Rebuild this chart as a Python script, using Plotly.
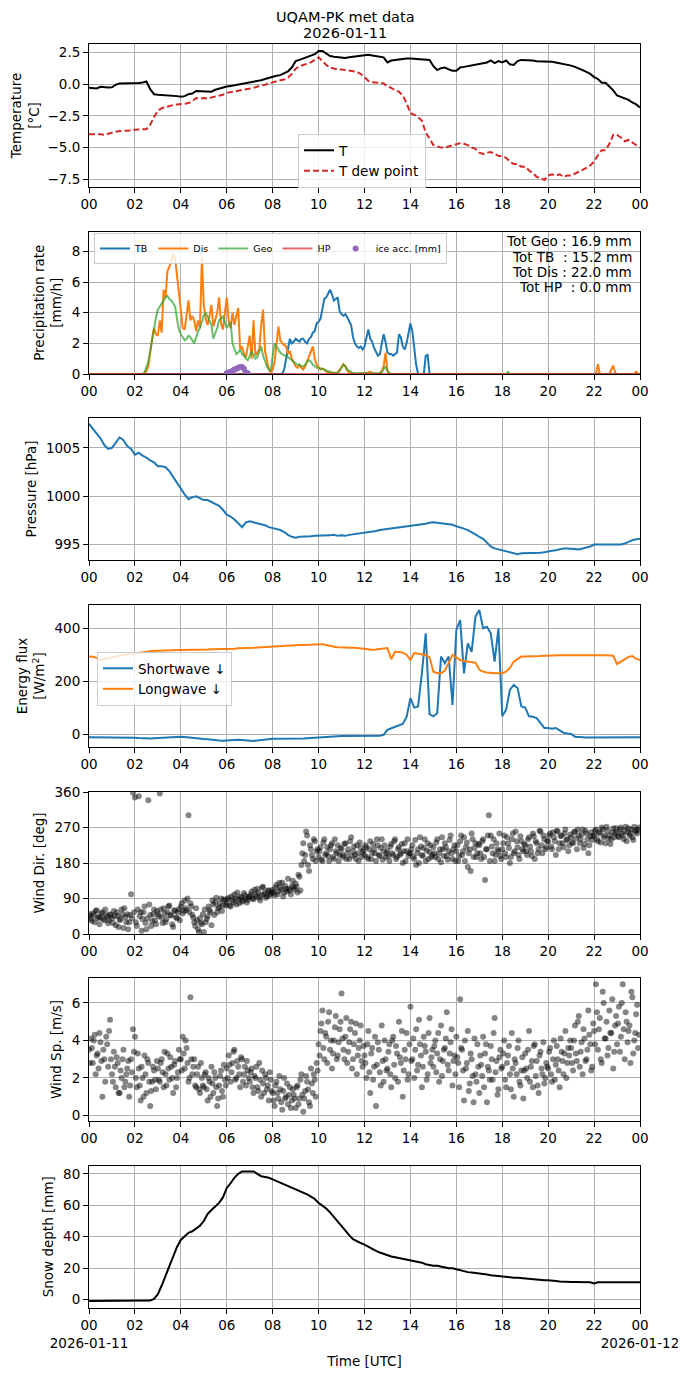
import pandas as pd
import plotly.graph_objects as go
from plotly.subplots import make_subplots

# Time grids (10-min for slow series, 5-min for precip, 2.5-min for wind)
t10 = pd.date_range('2026-01-11 00:00', '2026-01-12 00:00', freq='10min')
t5 = pd.date_range('2026-01-11 00:00', '2026-01-12 00:00', freq='5min')
t5_wind = t5[:-1]
t5_wind_b = t5_wind + pd.Timedelta('150s')
t_ice = pd.date_range('2026-01-11 06:00', '2026-01-11 06:55', freq='5min')

hour_ticks = pd.date_range('2026-01-11 00:00', '2026-01-12 00:00', freq='2h')
hour_labels = ['00', '02', '04', '06', '08', '10', '12', '14', '16', '18', '20', '22', '00']
day_labels = ['2026-01-11', '2026-01-12']

# Temperature [C], 10-min
temp = [
    -0.30, -0.35, -0.35, -0.22, -0.25, -0.28,
    -0.25, -0.05, 0.05, 0.05, 0.06, 0.05,
    0.08, 0.08, 0.12, 0.20, -0.40, -0.80,
    -0.85, -0.86, -0.88, -0.90, -0.92, -0.95,
    -1.00, -0.95, -0.80, -0.75, -0.55, -0.55,
    -0.55, -0.58, -0.60, -0.45, -0.35, -0.30,
    -0.20, -0.15, -0.10, -0.05, 0.05, 0.10,
    0.10, 0.15, 0.25, 0.30, 0.40, 0.50,
    0.60, 0.65, 0.70, 0.85, 1.00, 1.30,
    1.80, 1.90, 2.00, 2.10, 2.20, 2.35,
    2.60, 2.60, 2.40, 2.20, 2.15, 2.10,
    2.05, 2.05, 2.10, 2.15, 2.20, 2.25,
    2.30, 2.30, 2.25, 2.20, 2.15, 2.10,
    1.70, 1.85, 1.90, 1.95, 1.98, 2.00,
    2.00, 1.98, 1.95, 1.92, 1.95, 1.90,
    1.40, 1.10, 1.25, 1.30, 1.15, 1.05,
    1.05, 1.30, 1.35, 1.40, 1.45, 1.50,
    1.55, 1.60, 1.70, 1.85, 1.65, 1.80,
    1.70, 1.85, 1.55, 1.50, 1.80, 1.90,
    1.90, 1.85, 1.85, 1.80, 1.80, 1.80,
    1.80, 1.75, 1.70, 1.65, 1.60, 1.50,
    1.45, 1.35, 1.25, 1.10, 0.95, 0.80,
    0.55, 0.40, 0.10, 0.10, -0.20, -0.50,
    -0.90, -1.00, -1.10, -1.25, -1.45, -1.60,
    -1.85,
]
dewpoint = [
    -3.95, -3.95, -3.90, -3.95, -4.00, -3.90,
    -3.80, -3.75, -3.70, -3.70, -3.65, -3.65,
    -3.60, -3.55, -3.55, -3.55, -3.20, -2.60,
    -2.10, -1.90, -1.80, -1.70, -1.65, -1.60,
    -1.60, -1.55, -1.50, -1.35, -1.10, -1.15,
    -1.10, -1.15, -1.05, -1.00, -0.90, -0.85,
    -0.70, -0.65, -0.60, -0.55, -0.50, -0.40,
    -0.35, -0.30, -0.20, -0.15, -0.05, 0.05,
    0.15, 0.20, 0.30, 0.35, 0.50, 0.80,
    1.20, 1.40, 1.50, 1.60, 1.70, 1.90,
    2.10, 1.80, 1.50, 1.30, 1.20, 1.15,
    1.15, 1.10, 1.10, 1.05, 0.95, 0.80,
    0.50, 0.25, 0.15, 0.15, 0.10, 0.05,
    -0.20, -0.30, -0.50, -0.60, -0.90, -1.50,
    -2.30, -2.40, -2.60, -2.90, -3.80, -4.30,
    -4.80, -4.90, -5.00, -5.00, -4.90, -4.80,
    -4.70, -4.65, -4.70, -4.80, -5.00, -5.10,
    -5.40, -5.50, -5.40, -5.35, -5.50, -5.65,
    -5.70, -5.80, -6.10, -6.30, -6.30, -6.50,
    -6.50, -6.80, -7.00, -7.30, -7.40, -7.55,
    -7.20, -7.10, -7.20, -7.10, -7.30, -7.20,
    -7.20, -7.05, -6.90, -6.80, -6.60, -6.40,
    -6.10, -5.60, -5.20, -5.20, -4.70, -4.00,
    -4.00, -4.20, -4.50, -4.40, -4.60, -4.80,
    -5.00,
]

# Precipitation rate [mm/h], 5-min
zero_hour = [0.0] * 12
precip_tb = (
    zero_hour * 8 +
    [0, 0, 0, 0, 0, 0, 0.3, 1.0, 1.7, 2.3, 2.0, 2.1] +
    [2.3, 2.2, 2.1, 2.3, 2.3, 2.1, 2.0, 2.3, 2.4, 2.7, 2.8, 3.3] +
    [3.4, 3.6, 4.4, 4.9, 5.0, 5.3, 5.5, 5.2, 4.8, 4.9, 5.0, 4.1] +
    [3.9, 3.8, 3.9, 3.7, 3.4, 3.2, 2.4, 2.0, 1.8, 1.7, 1.8, 1.6] +
    [1.8, 2.4, 2.9, 2.3, 2.1, 1.7, 1.4, 1.2, 1.3, 2.0, 2.6, 2.1] +
    [1.4, 1.3, 1.3, 1.2, 1.3, 1.4, 2.6, 2.4, 1.8, 1.6, 2.0, 2.6] +
    [3.3, 2.8, 1.8, 0.6, 0, 0, 0, 0, 1.2, 1.25, 0, 0] +
    zero_hour * 9 + [0.0]
)
precip_dis = (
    zero_hour * 2 +
    [0, 0, 0, 0, 0, 0.05, 0.2, 0.5, 1.5, 2.3, 3.0, 2.6] +
    [2.5, 3.5, 2.7, 5.5, 5.0, 6.7, 7.0, 7.5, 7.8, 7.6, 6.4, 5.0] +
    [4.0, 3.0, 2.9, 3.8, 4.8, 3.5, 3.8, 3.5, 2.8, 3.5, 3.0, 7.6] +
    [4.5, 3.6, 3.2, 3.8, 4.5, 3.1, 3.5, 4.0, 5.0, 3.3, 2.9, 4.0] +
    [5.0, 3.5, 3.0, 4.0, 3.2, 3.8, 4.3, 1.6, 1.8, 1.3, 1.1, 1.8] +
    [2.5, 1.0, 3.5, 1.2, 1.4, 1.6, 3.2, 4.2, 1.5, 0.8, 0.3, 0.1] +
    [0.3, 0.8, 2.0, 3.1, 2.2, 2.0, 1.9, 1.8, 1.3, 1.5, 1.0, 0.7] +
    [0.5, 0.4, 0.6, 0.4, 0.3, 0.5, 0.8, 1.1, 1.5, 1.8, 1.0, 0.6] +
    [0.4, 0.3, 0.35, 0.3, 0.15, 0.1, 0.05, 0.05, 0.1, 0.05, 0.1, 0.3] +
    [0.5, 0.65, 0.5, 0.2, 0.1, 0.05, 0.02, 0.02, 0.02, 0.02, 0.02, 0.02] +
    [0.02, 0.05, 0.1, 0.15, 0.05, 0.02, 0.02, 0.02, 0.05, 0.2, 0.5, 1.4] +
    [0.2, 0.02, 0, 0, 0, 0, 0, 0, 0, 0, 0, 0] +
    zero_hour * 8 +
    [0, 0, 0.65, 0, 0, 0, 0, 0, 0, 0.3, 0.55, 0.1] +
    [0, 0, 0, 0, 0, 0, 0, 0, 0, 0, 0.15, 0] + [0.0]
)
precip_geo = (
    zero_hour * 2 +
    [0, 0, 0, 0, 0, 0.1, 0.4, 0.8, 1.5, 2.3, 3.0, 3.7] +
    [4.2, 4.4, 4.6, 4.8, 5.0, 5.1, 4.9, 4.8, 4.6, 4.4, 3.6, 2.9] +
    [2.6, 2.4, 2.2, 2.3, 2.5, 2.4, 2.2, 2.0, 2.4, 2.8, 3.0, 3.5] +
    [3.8, 4.0, 3.7, 3.4, 3.2, 2.3, 2.6, 3.0, 3.5, 3.6, 3.8, 3.3] +
    [3.0, 3.2, 3.4, 2.0, 1.6, 1.3, 1.4, 1.6, 1.3, 1.2, 1.0, 0.9] +
    [1.2, 1.5, 1.2, 1.0, 1.1, 1.4, 1.8, 1.2, 0.8, 0.5, 0.3, 0.2] +
    [1.2, 2.0, 1.8, 1.6, 1.4, 1.3, 1.2, 1.2, 1.1, 1.0, 0.9, 0.8] +
    [0.7, 0.6, 0.6, 0.5, 0.5, 0.6, 0.8, 0.9, 0.8, 0.6, 0.5, 0.4] +
    [0.4, 0.35, 0.3, 0.3, 0.2, 0.15, 0.1, 0.1, 0.05, 0.05, 0.05, 0.2] +
    [0.4, 0.6, 0.5, 0.3, 0.2, 0.1, 0.05, 0.05, 0.05, 0.05, 0.05, 0.05] +
    [0.05, 0.05, 0.05, 0.05, 0.05, 0.05, 0.05, 0.05, 0.05, 0.1, 0.3, 0.5] +
    [0.2, 0.05, 0, 0, 0, 0, 0, 0, 0, 0, 0, 0] +
    zero_hour * 4 +
    [0, 0, 0, 0.15, 0, 0, 0, 0, 0, 0, 0, 0] +
    zero_hour * 5 + [0.0]
)
precip_hp = [0.0] * 289
ice_acc = [0.05, 0.1, 0.15, 0.2, 0.3, 0.35, 0.4, 0.45, 0.45, 0.35, 0.1, 0.05]

tot_names = ['Geo', 'TB ', 'Dis', 'HP ']
tot_values = [16.9, 15.2, 22.0, 0.0]

# Pressure [hPa], 10-min
pressure = [
    1007.5, 1007.0, 1006.5, 1006.0, 1005.3, 1004.9,
    1005.0, 1005.6, 1006.1, 1005.8, 1005.2, 1004.9,
    1004.3, 1004.5, 1004.2, 1004.0, 1003.7, 1003.5,
    1003.1, 1003.1, 1003.0, 1002.6, 1002.0, 1001.3,
    1000.7, 1000.2, 999.7, 999.9, 1000.0, 999.8,
    999.6, 999.6, 999.4, 999.2, 999.0, 998.6,
    998.1, 997.9, 997.6, 997.2, 996.8, 997.3,
    997.4, 997.3, 997.2, 997.1, 997.0, 996.8,
    996.7, 996.6, 996.5, 996.3, 996.0, 995.8,
    995.7, 995.8, 995.8, 995.85, 995.85, 995.9,
    995.9, 995.95, 995.95, 995.95, 996.0, 995.9,
    995.95, 995.9, 996.0, 996.05, 996.1, 996.15,
    996.2, 996.3, 996.35, 996.4, 996.5, 996.55,
    996.6, 996.65, 996.7, 996.75, 996.8, 996.85,
    996.9, 996.95, 997.05, 997.1, 997.15, 997.25,
    997.3, 997.25, 997.2, 997.2, 997.15, 997.05,
    996.9, 996.8, 996.65, 996.5, 996.3, 996.05,
    995.8, 995.6, 995.2, 994.8, 994.6, 994.5,
    994.4, 994.3, 994.2, 994.05, 994.0, 994.1,
    994.1, 994.1, 994.1, 994.1, 994.15, 994.2,
    994.3, 994.35, 994.4, 994.5, 994.6, 994.6,
    994.55, 994.55, 994.5, 994.6, 994.7, 994.8,
    995.0, 995.0, 995.05, 995.0, 995.05, 995.0,
    995.05, 995.0, 995.1, 995.3, 995.45, 995.55,
    995.6,
]

# Radiation [W/m2], 10-min
shortwave = [
    -12, -12, -13, -12, -12, -13,
    -13, -13, -12, -13, -14, -14,
    -14, -15, -16, -18, -17, -16,
    -15, -14, -13, -12, -11, -11,
    -10, -11, -13, -15, -17, -18,
    -19, -20, -22, -23, -24, -25,
    -24, -23, -23, -22, -23, -24,
    -25, -26, -24, -22, -20, -19,
    -18, -18, -18, -19, -18, -18,
    -18, -17, -17, -16, -15, -14,
    -13, -11, -9, -8, -7, -7,
    -7, -7, -7, -7, -8, -8,
    -8, -8, -8, -7, -6, -3,
    16, 22, 28, 31, 38, 65,
    136, 100, 104, 230, 381, 75,
    67, 79, 293, 268, 293, 110,
    394, 431, 229, 343, 311, 444,
    469, 400, 406, 381, 274, 400,
    67, 92, 167, 186, 174, 104,
    100, 67, 65, 60, 40, 23,
    23, 20, 23, 15, 5, 2,
    0, -10, -12, -12, -13, -13,
    -13, -13, -13, -13, -12, -12,
    -12, -12, -12, -12, -12, -12,
    -12,
]
longwave = [
    293, 292, 288, 280, 284, 287,
    290, 292, 296, 300, 302, 303,
    305, 306, 308, 312, 314, 315,
    315, 316, 316, 317, 317, 318,
    318, 318, 319, 319, 320, 320,
    320, 320, 321, 321, 322, 322,
    322, 323, 323, 324, 324, 325,
    325, 326, 327, 328, 330, 331,
    332, 333, 334, 335, 335, 336,
    336, 337, 337, 338, 339, 340,
    340, 340, 337, 333, 330, 328,
    328, 327, 327, 326, 325, 323,
    322, 320, 319, 320, 321, 323,
    325, 283, 312, 310, 308, 300,
    280, 306, 303, 300, 299, 290,
    236, 230, 230, 240, 270, 299,
    290, 280, 276, 274, 274, 270,
    243, 236, 233, 231, 230, 230,
    230, 236, 250, 274, 285, 293,
    293, 293, 294, 294, 295, 296,
    297, 297, 297, 298, 298, 298,
    298, 298, 298, 299, 299, 300,
    300, 300, 299, 298, 297, 296,
    265, 275, 285, 292, 295, 284,
    280,
]

# Wind direction [deg], samples on the 5-min marks
wind_dir = [
    45, 38, 52, 30, 60, 44, 41, 55, 35, 48, 27, 50,
    40, 58, 22, 46, 35, 62, 15, 43, 50, 30, 101, 358,
    346, 20, 349, 55, 38, 70, 12, 339, 48, 33, 62, 25,
    50, 356, 41, 65, 30, 55, 72, 47, 18, 58, 40, 63,
    70, 52, 85, 60, 301, 78, 48, 30, 65, 12, 40, 25,
    5, 30, 45, 60, 22, 75, 80, 55, 68, 90, 72, 85,
    78, 92, 70, 85, 100, 75, 88, 95, 82, 104, 90, 86,
    95, 108, 88, 100, 115, 92, 98, 120, 105, 96, 110, 102,
    112, 98, 125, 108, 118, 130, 105, 115, 140, 110, 122, 118,
    128, 105, 145, 175, 230, 200, 250, 160, 215, 190, 235, 210,
    195, 220, 185, 240, 205, 198, 215, 230, 190, 210, 225, 200,
    215, 195, 230, 205, 190, 245, 210, 200, 225, 185, 218, 207,
    200, 220, 190, 235, 205, 215, 185, 225, 198, 240, 210, 195,
    212, 185, 228, 200, 240, 195, 220, 205, 180, 230, 210, 198,
    205, 225, 190, 175, 215, 245, 200, 218, 185, 230, 208, 195,
    220, 195, 240, 205, 182, 215, 230, 198, 210, 250, 190, 225,
    210, 185, 235, 200, 245, 220, 170, 215, 255, 195, 230, 205,
    225, 190, 240, 137, 215, 301, 250, 205, 185, 230, 210, 198,
    215, 250, 195, 230, 180, 240, 205, 260, 220, 190, 235, 210,
    225, 200, 245, 210, 255, 190, 230, 215, 260, 205, 240, 220,
    235, 255, 215, 245, 200, 260, 230, 250, 220, 265, 240, 225,
    245, 230, 260, 215, 250, 240, 265, 228, 255, 205, 248, 238,
    250, 265, 235, 258, 270, 245, 230, 262, 250, 240, 268, 255,
    258, 245, 270, 250, 262, 235, 268, 255, 245, 272, 260, 265,
]
# Wind direction [deg], samples between the 5-min marks
wind_dir_b = [
    50, 33, 47, 58, 40, 25, 52, 38, 62, 44, 35, 48,
    28, 45, 55, 18, 38, 50, 65, 30, 12, 48, 40, 55,
    30, 62, 45, 8, 55, 28, 40, 75, 20, 50, 35, 58,
    45, 62, 28, 52, 38, 70, 48, 25, 60, 42, 55, 35,
    78, 58, 65, 90, 55, 70, 42, 20, 35, 5, 28, 50,
    62, 38, 70, 55, 85, 48, 92, 65, 78, 58, 88, 72,
    88, 72, 95, 80, 90, 105, 78, 92, 85, 98, 80, 94,
    100, 90, 112, 95, 105, 85, 118, 100, 92, 110, 98, 106,
    105, 118, 100, 130, 112, 95, 122, 108, 115, 100, 135, 112,
    120, 150, 110, 205, 185, 260, 175, 225, 200, 240, 185, 215,
    210, 188, 232, 200, 220, 185, 225, 195, 240, 205, 185, 218,
    200, 228, 190, 215, 235, 198, 222, 190, 205, 232, 195, 212,
    225, 195, 215, 190, 228, 205, 240, 200, 218, 188, 225, 205,
    198, 222, 205, 235, 190, 215, 200, 228, 210, 185, 240, 205,
    215, 195, 238, 205, 180, 222, 198, 240, 212, 190, 225, 200,
    205, 232, 190, 215, 245, 198, 220, 188, 238, 205, 215, 185,
    225, 198, 250, 210, 185, 232, 205, 160, 240, 218, 195, 228,
    205, 235, 195, 215, 250, 185, 222, 240, 200, 215, 255, 190,
    230, 205, 245, 218, 195, 255, 210, 235, 200, 248, 215, 228,
    210, 240, 222, 198, 248, 235, 205, 262, 225, 250, 215, 235,
    250, 222, 258, 235, 262, 215, 248, 230, 255, 238, 210, 252,
    232, 258, 242, 265, 230, 252, 218, 262, 240, 225, 258, 248,
    262, 240, 255, 232, 265, 250, 272, 242, 228, 258, 245, 268,
    248, 265, 255, 240, 272, 258, 250, 265, 238, 262, 255, 270,
]

# Wind speed [m/s], samples on the 5-min marks
wind_speed = [
    3.5, 4.1, 2.8, 4.3, 3.2, 2.5, 3.9, 1.0, 3.0, 4.2, 2.6, 5.1,
    2.2, 3.4, 1.5, 2.8, 1.2, 2.0, 3.5, 1.8, 2.5, 1.0, 3.0, 4.6,
    4.2, 1.5, 2.5, 0.8, 2.0, 3.2, 1.2, 2.8, 0.5, 1.8, 2.4, 1.4,
    2.5, 1.8, 3.0, 1.5, 2.2, 3.3, 1.9, 2.6, 1.2, 2.9, 2.0, 3.5,
    3.0, 4.2, 2.5, 3.6, 1.8, 6.3, 2.2, 3.0, 1.5, 2.6, 1.2, 2.0,
    1.5, 2.3, 0.8, 1.8, 2.6, 1.2, 2.0, 0.5, 1.6, 2.4, 1.0, 1.9,
    2.5, 3.2, 1.8, 2.8, 3.5, 2.0, 2.6, 1.5, 3.0, 2.2, 1.6, 2.4,
    1.8, 2.5, 1.2, 2.0, 1.5, 2.8, 1.0, 1.7, 2.2, 1.4, 0.8, 1.9,
    1.2, 0.5, 1.8, 0.9, 1.4, 0.3, 2.0, 1.0, 0.6, 1.5, 0.8, 1.1,
    0.4, 1.6, 0.9, 2.2, 0.2, 1.3, 1.8, 0.7, 2.5, 1.2, 1.9, 2.8,
    3.8, 4.5, 5.6, 3.0, 4.2, 5.0, 3.5, 2.5, 4.0, 5.3, 3.2, 4.6,
    6.5, 3.5, 4.2, 2.8, 3.9, 5.0, 3.0, 4.4, 2.2, 3.6, 4.8, 2.6,
    3.2, 2.0, 4.5, 1.2, 3.6, 2.6, 0.5, 3.9, 2.3, 4.8, 1.8, 3.0,
    2.5, 3.8, 1.5, 4.2, 2.0, 3.3, 5.0, 2.8, 1.0, 3.5, 4.4, 2.2,
    5.8, 3.0, 2.0, 4.6, 2.7, 3.8, 1.5, 4.2, 3.4, 2.2, 5.2, 3.1,
    2.6, 4.0, 3.3, 1.8, 4.8, 2.9, 3.6, 5.5, 2.4, 3.9, 1.6, 3.2,
    4.2, 2.8, 6.2, 3.5, 0.8, 2.5, 4.5, 1.7, 3.0, 0.7, 2.2, 3.8,
    1.2, 2.7, 4.2, 3.3, 0.7, 2.4, 3.7, 1.9, 5.2, 2.9, 1.4, 3.5,
    2.6, 4.0, 1.5, 3.2, 2.2, 4.4, 1.0, 2.8, 3.6, 1.8, 2.4, 0.9,
    3.3, 2.0, 4.5, 2.6, 1.5, 3.8, 2.9, 1.2, 3.4, 2.2, 1.7, 2.8,
    2.5, 3.6, 1.8, 4.0, 2.7, 3.0, 1.5, 3.4, 2.2, 4.5, 2.8, 3.2,
    3.6, 2.4, 4.8, 2.9, 5.3, 3.4, 2.2, 4.1, 3.0, 5.6, 3.8, 2.6,
    4.5, 7.0, 3.5, 5.2, 2.8, 6.0, 4.1, 3.2, 5.6, 4.4, 2.5, 4.8,
    3.8, 5.8, 4.2, 7.0, 3.0, 5.0, 4.5, 2.8, 6.3, 4.0, 5.4, 3.6,
]
# Wind speed [m/s], samples between the 5-min marks
wind_speed_b = [
    2.8, 3.6, 4.0, 2.2, 3.3, 4.4, 2.9, 3.5, 1.8, 3.8, 4.5, 3.0,
    1.8, 2.6, 3.1, 1.2, 2.4, 3.0, 1.5, 2.2, 2.9, 1.6, 2.3, 3.4,
    2.0, 3.3, 1.6, 2.6, 1.0, 2.2, 3.0, 1.8, 1.3, 2.6, 1.9, 2.9,
    1.9, 2.8, 2.3, 3.4, 1.6, 2.5, 3.1, 2.0, 2.7, 1.5, 2.3, 3.0,
    2.4, 3.3, 4.0, 2.8, 2.0, 3.0, 2.6, 1.6, 2.2, 1.4, 2.8, 1.6,
    2.2, 1.4, 2.0, 1.0, 1.7, 2.3, 1.5, 0.9, 2.1, 1.3, 2.7, 1.6,
    2.0, 2.7, 2.3, 3.4, 1.9, 2.9, 2.2, 3.1, 1.8, 2.6, 2.9, 2.0,
    2.3, 1.5, 2.1, 2.6, 1.3, 1.9, 2.4, 1.2, 2.0, 1.6, 2.3, 1.3,
    0.8, 1.6, 1.2, 2.1, 0.7, 1.3, 0.9, 1.7, 1.1, 0.4, 1.4, 0.9,
    1.5, 0.6, 1.9, 1.1, 0.9, 2.1, 1.4, 0.5, 1.7, 2.2, 1.0, 2.4,
    3.2, 4.9, 3.6, 4.4, 2.8, 5.5, 4.0, 3.3, 4.7, 3.0, 3.9, 5.0,
    4.1, 3.0, 5.2, 3.4, 4.6, 2.5, 3.8, 4.9, 3.2, 4.0, 2.9, 3.7,
    2.8, 3.8, 2.3, 3.3, 1.9, 4.2, 2.7, 3.5, 1.6, 2.9, 4.0, 2.4,
    3.4, 2.2, 4.0, 2.7, 3.7, 1.8, 3.1, 4.5, 2.4, 3.0, 1.9, 3.8,
    2.9, 4.1, 3.5, 2.4, 5.1, 3.2, 2.6, 3.7, 1.9, 4.4, 2.8, 3.5,
    3.7, 2.3, 4.4, 3.0, 2.1, 3.5, 4.1, 2.7, 3.3, 4.6, 2.9, 2.2,
    3.1, 1.5, 3.6, 2.4, 4.0, 2.8, 1.3, 3.3, 2.1, 4.1, 1.8, 2.6,
    3.2, 2.1, 1.5, 3.8, 2.6, 1.9, 3.0, 4.4, 2.3, 1.1, 3.1, 2.5,
    3.3, 1.9, 2.8, 3.7, 1.4, 2.5, 3.0, 2.2, 4.0, 1.6, 3.1, 2.4,
    2.5, 3.5, 1.8, 2.9, 3.7, 2.1, 1.6, 3.2, 2.5, 3.9, 2.0, 2.6,
    3.4, 2.2, 3.0, 1.9, 3.7, 2.4, 4.1, 2.9, 3.3, 2.0, 3.6, 4.0,
    2.8, 4.0, 3.3, 5.0, 2.6, 3.9, 4.6, 2.9, 3.5, 4.3, 2.4, 4.9,
    3.8, 5.5, 4.6, 3.0, 6.6, 4.1, 5.0, 3.6, 4.4, 6.2, 3.4, 5.3,
    4.9, 3.4, 6.0, 4.6, 5.5, 3.9, 4.8, 6.6, 3.3, 4.4, 5.9, 4.3,
]

# Snow depth [mm], 10-min
snow_depth = [
    -0.8, -0.8, -0.8, -0.8, -0.8, -0.8,
    -0.8, -0.8, -0.8, -0.8, -0.8, -0.8,
    -0.8, -0.8, -0.8, -0.8, -0.6, 0.5,
    3.5, 9, 15, 22, 28, 33.5,
    38, 40.5, 42.5, 43.5, 45, 47,
    50, 54.5, 57, 59, 61.5, 65,
    71, 74, 77.5, 80, 81.5, 81.5,
    81.5, 81.5, 80, 78.5, 78, 77.5,
    76.5, 75.5, 74, 73, 72, 71,
    70, 69, 68, 67, 65.5, 64,
    61.5, 60, 58, 55.5, 52.5, 49.5,
    47, 44, 41, 38.5, 37, 36,
    35, 33.5, 32, 31, 30, 29,
    28, 27.5, 27, 26.5, 26, 25.5,
    24.8, 24.5, 24, 23.5, 22.5, 22,
    21.5, 21.5, 21, 20.5, 20, 20,
    19.3, 18.5, 18, 17.5, 17.2, 17,
    16.5, 16.3, 16, 15.5, 15.2, 15,
    14.6, 14.3, 14.2, 14, 14, 13.7,
    13.5, 13.2, 12.8, 12.5, 12.5, 12.3,
    12.3, 12.2, 11.8, 11.5, 11.3, 11.3,
    11.2, 11.2, 11.2, 11.2, 11.1, 11.1,
    10.3, 11.0, 11.0, 11.0, 11.0, 11.0,
    11.0, 11.0, 11.0, 11.0, 11.0, 11.0,
    11.0,
]

# Page geometry: targets are screen pixels; the page body adds an 8 px offset
OFF = 8
W, H = 690 - OFF, 1377 - OFF
PLOT_L, PLOT_R, PLOT_T, PLOT_B = 89, 640, 44, 1308
L, T = PLOT_L - OFF, PLOT_T - OFF
R, B = W - (PLOT_R - OFF), H - (PLOT_B - OFF)
panel_px = [(44, 187), (231.5, 374), (418, 560), (605, 747),
            (792, 934), (978, 1121), (1165.5, 1308)]
plot_w = PLOT_R - PLOT_L
plot_h = PLOT_B - PLOT_T


def px_x(px):
    return (px - PLOT_L) / plot_w


def px_y(py):
    return (PLOT_B - py) / plot_h


FONT = 'DejaVu Sans'
FS = 13.5
fig = make_subplots(rows=7, cols=1)

# 1 temperature
fig.add_trace(go.Scatter(x=t10, y=temp, mode='lines', name='T',
                         line=dict(color='black', width=2), legend='legend'), row=1, col=1)
fig.add_trace(go.Scatter(x=t10, y=dewpoint, mode='lines', name='T dew point',
                         line=dict(color='#d62728', width=2, dash='6px,3px'), legend='legend'), row=1, col=1)

# 2 precipitation
fig.add_trace(go.Scatter(x=t5, y=precip_tb, mode='lines', name='TB',
                         line=dict(color='#1f77b4', width=2), legend='legend2'), row=2, col=1)
fig.add_trace(go.Scatter(x=t5, y=precip_dis, mode='lines', name='Dis',
                         line=dict(color='#ff7f0e', width=2), legend='legend2'), row=2, col=1)
fig.add_trace(go.Scatter(x=t5, y=precip_geo, mode='lines', name='Geo',
                         line=dict(color='rgba(44,160,44,0.7)', width=2), legend='legend2'), row=2, col=1)
fig.add_trace(go.Scatter(x=t5, y=precip_hp, mode='lines', name='HP',
                         line=dict(color='rgba(214,39,40,0.7)', width=2), legend='legend2'), row=2, col=1)
fig.add_trace(go.Scatter(x=t_ice, y=ice_acc, mode='markers', name='ice acc. [mm]',
                         marker=dict(color='#9467bd', size=6), legend='legend2'), row=2, col=1)

# totals, one line per annotation to keep the tight line spacing
tot_line_y = [241, 257, 272, 287]
for n, v, ly in zip(tot_names, tot_values, tot_line_y):
    fig.add_annotation(text=f'Tot {n.replace(" ", chr(160))}\u00a0: {v:.1f} mm',
                       xref='paper', yref='paper', x=px_x(634), y=px_y(ly),
                       xanchor='right', yanchor='middle', showarrow=False,
                       font=dict(size=FS, family=FONT, color='black'))

# 3 pressure
fig.add_trace(go.Scatter(x=t10, y=pressure, mode='lines', showlegend=False,
                         line=dict(color='#1f77b4', width=2)), row=3, col=1)

# 4 radiation
fig.add_trace(go.Scatter(x=t10, y=shortwave, mode='lines', name='Shortwave ↓',
                         line=dict(color='#1f77b4', width=2), legend='legend3'), row=4, col=1)
fig.add_trace(go.Scatter(x=t10, y=longwave, mode='lines', name='Longwave ↓',
                         line=dict(color='#ff7f0e', width=2), legend='legend3'), row=4, col=1)

# 5, 6 wind
dot = dict(color='black', opacity=0.48, size=6, line=dict(width=0))
for times, vals in [(t5_wind, wind_dir), (t5_wind_b, wind_dir_b)]:
    fig.add_trace(go.Scatter(x=times, y=vals, mode='markers', showlegend=False, marker=dot), row=5, col=1)
for times, vals in [(t5_wind, wind_speed), (t5_wind_b, wind_speed_b)]:
    fig.add_trace(go.Scatter(x=times, y=vals, mode='markers', showlegend=False, marker=dot), row=6, col=1)

# 7 snow depth
fig.add_trace(go.Scatter(x=t10, y=snow_depth, mode='lines', showlegend=False,
                         line=dict(color='black', width=2)), row=7, col=1)

axis_style = dict(showline=True, mirror=True, linecolor='black', linewidth=1,
                  ticks='outside', ticklen=5, tickcolor='black', automargin=False,
                  showgrid=True, gridcolor='#b0b0b0', gridwidth=0.8, zeroline=False)

bottom_labels = list(hour_labels)
bottom_labels[0] = hour_labels[0] + '<br>' + day_labels[0]
bottom_labels[-1] = hour_labels[-1] + '<br>' + day_labels[1]

for r in range(1, 8):
    fig.update_xaxes(row=r, col=1, type='date', range=[hour_ticks[0], hour_ticks[-1]],
                     tickvals=hour_ticks, ticktext=bottom_labels if r == 7 else hour_labels,
                     tickangle=0, **axis_style)
fig.update_xaxes(row=7, col=1, title=dict(text='Time [UTC]', standoff=6, font=dict(size=FS)))

y_specs = [
    ('Temperature<br>[°C]', [-8.1, 3.15], [-7.5, -5, -2.5, 0, 2.5], '.1f'),
    ('Precipitation rate<br>[mm/h]', [0, 9.3], [0, 2, 4, 6, 8], 'd'),
    ('Pressure [hPa]', [993.4, 1008.1], [995, 1000, 1005], 'd'),
    ('Energy flux<br>[W/m<sup>2</sup>]', [-49, 488], [0, 200, 400], 'd'),
    ('Wind Dir. [deg]', [0, 360], [0, 90, 180, 270, 360], 'd'),
    ('Wind Sp. [m/s]', [-0.3, 7.33], [0, 2, 4, 6], 'd'),
    ('Snow depth [mm]', [-5.3, 85.3], [0, 20, 40, 60, 80], 'd'),
]
for r, (title, rng, tv, fmt) in enumerate(y_specs, start=1):
    top, bot = panel_px[r - 1]
    fig.update_yaxes(row=r, col=1, title=dict(text=title, standoff=6, font=dict(size=FS)),
                     range=rng, tickvals=tv, tickformat=fmt,
                     domain=[px_y(bot), px_y(top)], **axis_style)

# figure title, centred on the page
for text, ty in [('UQAM-PK met data', 17), ('2026-01-11', 33)]:
    fig.add_annotation(text=text, xref='paper', yref='paper', x=px_x(345), y=px_y(ty),
                       xanchor='center', yanchor='middle', showarrow=False,
                       font=dict(size=14.5, family=FONT, color='black'))

legend_box = dict(bgcolor='rgba(255,255,255,0.8)', bordercolor='#cccccc', borderwidth=1)
fig.update_layout(
    width=W, height=H,
    margin=dict(l=L, r=R, t=T, b=B),
    plot_bgcolor='white', paper_bgcolor='white',
    font=dict(family=FONT, size=FS, color='black'),
    legend=dict(x=px_x(298), y=px_y(134), xanchor='left', yanchor='top',
                font=dict(size=FS), itemwidth=30, **legend_box),
    legend2=dict(x=px_x(94), y=px_y(233), xanchor='left', yanchor='top', orientation='h',
                 font=dict(size=9.5), itemwidth=30, **legend_box),
    legend3=dict(x=px_x(97), y=px_y(652), xanchor='left', yanchor='top',
                 font=dict(size=FS), itemwidth=30, **legend_box),
)

fig.write_html('out.html')
